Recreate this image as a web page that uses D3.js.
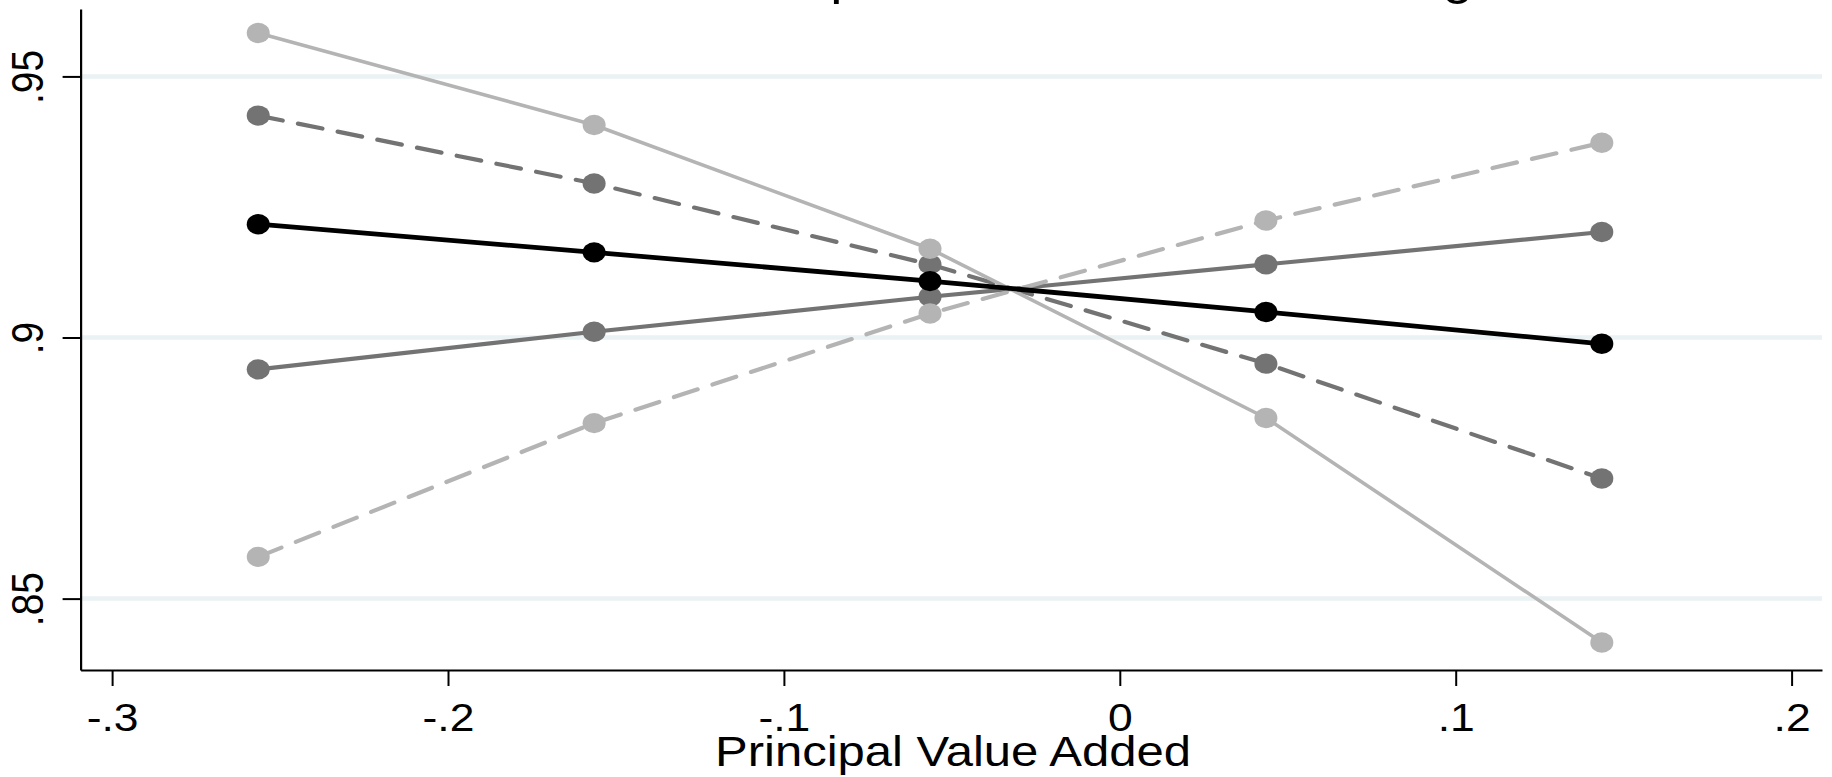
<!DOCTYPE html>
<html>
<head>
<meta charset="utf-8">
<script src="https://cdn.jsdelivr.net/npm/d3@7"></script>
<style>
  html, body { margin: 0; padding: 0; background: #fff; }
  svg { display: block; font-family: "Liberation Sans", Arial, sans-serif; }
</style>
</head>
<body>
<svg id="chart" width="1832" height="777"></svg>
<script>
// principal value added at the five evaluation points
const pva = [-0.2565, -0.1565, -0.0565, 0.0435, 0.1435];

// predicted values, one array per line
const lightSolid  = [0.9583, 0.9407, 0.9170, 0.8846, 0.8416];
const darkDashed  = [0.9425, 0.9295, 0.9140, 0.8950, 0.8730];
const blackSolid  = [0.9217, 0.9163, 0.9108, 0.9049, 0.8988];
const darkSolid   = [0.8939, 0.9011, 0.9078, 0.9140, 0.9202];
const lightDashed = [0.8580, 0.8836, 0.9046, 0.9224, 0.9373];

const xTicks = [-0.3, -0.2, -0.1, 0, 0.1, 0.2];
const xTickLabels = ["-.3", "-.2", "-.1", "0", ".1", ".2"];
const yTicks = [0.85, 0.9, 0.95];
const yTickLabels = [".85", ".9", ".95"];

const titleText = "Retention: Principal VA and Teacher Rating";
const xTitle = "Principal Value Added";

// drawing order: lines first, markers in the same order
const series = [
    {values: darkSolid,   color: "#737373", width: 4.2, dash: null},
    {values: darkDashed,  color: "#737373", width: 4.2, dash: "25 15.5"},
    {values: lightDashed, color: "#b4b4b4", width: 4.2, dash: "25 15.5"},
    {values: lightSolid,  color: "#b4b4b4", width: 3.6, dash: null},
    {values: blackSolid,  color: "#000000", width: 4.8, dash: null}
];

const plot = {left: 80.6, right: 1822, top: 9, bottom: 670};
const stretch = 1.14; // the source figure is a little wider than tall

const svg = d3.select("#chart");

const x = d3.scaleLinear().domain([-0.30938, 0.20905]).range([plot.left, plot.right]);
const y = d3.scaleLinear().domain([0.83633, 0.96291]).range([plot.bottom, plot.top]);

// gridlines
svg.append("g").selectAll("line").data(yTicks).enter().append("line")
    .attr("x1", plot.left + 1)
    .attr("x2", plot.right)
    .attr("y1", d => y(d))
    .attr("y2", d => y(d))
    .attr("stroke", "#eaf2f3")
    .attr("stroke-width", 4.5);

// axes
const xAxis = svg.append("g")
    .attr("transform", `translate(0,${plot.bottom})`)
    .call(d3.axisBottom(x).tickValues(xTicks).tickFormat((d, i) => xTickLabels[i])
        .tickSize(16).tickSizeOuter(0));

const yAxis = svg.append("g")
    .attr("transform", `translate(${plot.left},0)`)
    .call(d3.axisLeft(y).tickValues(yTicks).tickFormat((d, i) => yTickLabels[i])
        .tickSize(18).tickSizeOuter(0));

[xAxis, yAxis].forEach(a => {
    a.attr("font-family", null);
    a.select(".domain").attr("stroke", "#000").attr("stroke-width", 2.2);
    a.selectAll(".tick line").attr("stroke", "#000").attr("stroke-width", 2);
    a.selectAll(".tick text").attr("fill", "#000").attr("font-size", 39);
});

xAxis.selectAll(".tick text")
    .attr("y", null).attr("dy", null)
    .attr("text-anchor", "middle")
    .attr("transform", `translate(0,${731 - plot.bottom}) scale(${stretch},1)`);

yAxis.selectAll(".tick text")
    .attr("x", null).attr("dy", null)
    .attr("text-anchor", "middle")
    .attr("transform", `translate(${43 - plot.left},0) scale(${stretch},1) rotate(-90)`);

// axis title
svg.append("text")
    .attr("transform", `translate(953,766) scale(${stretch},1)`)
    .attr("text-anchor", "middle")
    .attr("font-size", 43)
    .text(xTitle);

// chart title, mostly above the visible area (only descenders show)
svg.append("text")
    .attr("transform", `translate(951,-6) scale(${stretch},1)`)
    .attr("text-anchor", "middle")
    .attr("font-size", 48)
    .text(titleText);

const line = d3.line().x((d, i) => x(pva[i])).y(d => y(d));

svg.append("g").selectAll("path").data(series).enter().append("path")
    .attr("d", s => line(s.values))
    .attr("fill", "none")
    .attr("stroke", s => s.color)
    .attr("stroke-width", s => s.width)
    .attr("stroke-dasharray", s => s.dash)
    .attr("stroke-linecap", s => s.dash ? "round" : "butt");

const markers = svg.append("g");
series.forEach(s => {
    markers.append("g").selectAll("ellipse").data(s.values).enter().append("ellipse")
        .attr("cx", (d, i) => x(pva[i]))
        .attr("cy", d => y(d))
        .attr("rx", 11.5)
        .attr("ry", 10.2)
        .attr("fill", s.color);
});
</script>
</body>
</html>
